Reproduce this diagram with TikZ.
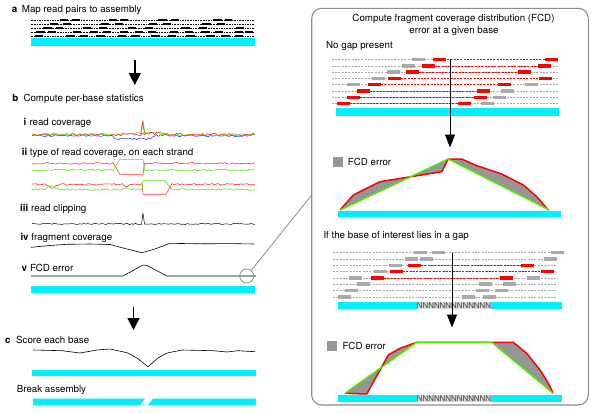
\documentclass[tikz,border=0pt]{standalone}
\usepackage{fontspec}
\setmainfont{TeX Gyre Heros}
\usetikzlibrary{arrows.meta}
\definecolor{cybar}{RGB}{0,240,255}
\definecolor{lred}{RGB}{255,50,50}
\definecolor{lgreen}{RGB}{90,225,20}
\definecolor{lblue}{RGB}{50,80,255}
\definecolor{rgray}{RGB}{170,170,170}
\definecolor{fillg}{RGB}{150,150,150}
\definecolor{boxg}{RGB}{140,140,140}
\definecolor{pgreen}{RGB}{80,235,0}
\newcommand\blkrow[2]{\foreach \a/\b in {#2} \fill[black] (\a,#1-1.1) rectangle (\b,#1+1.1);}
\newcommand\rrow[3]{\foreach \a in {#2} \fill[#3] (\a,#1-1.75) rectangle ++(13,3.5);}
\begin{document}
\begin{tikzpicture}[x=1pt,y=-1pt,
  txt/.style={anchor=base west, inner sep=0pt, font=\fontsize{9.75}{11}\selectfont},
  lbl/.style={anchor=base west, inner sep=0pt, font=\fontsize{9.75}{11}\selectfont\bfseries},
  bar/.style={fill=cybar, draw=none},
  bdash/.style={black, line width=0.45pt, dash pattern=on 1.6pt off 1pt},
  gdash/.style={rgray, line width=0.5pt, dash pattern=on 2pt off 1.3pt},
  rdash/.style={red, line width=0.6pt, dash pattern=on 2pt off 1.3pt},
  bigarrow/.style={line width=1.4pt, -{Triangle[width=12pt,length=12pt]}},
  thinarrow/.style={line width=0.9pt, -{Triangle[width=10pt,length=13pt]}},
  noisy/.style={line width=0.6pt, line join=round},
  plotline/.style={line width=1.5pt, line join=round}
]
\useasboundingbox (0,0) rectangle (600,413);

% ---------------- panel a ----------------
\node[lbl] (la) at (11.7,12.7) {a};
\node[txt] (ta) at (21.7,12.7) {Map read pairs to assembly};
\foreach \yy in {20,24,28,32,36} \draw[bdash] (31.3,\yy) -- (254.7,\yy);
\blkrow{20}{60/68,72/80,109/117,120/128,158/167,171/179,213/222,225/232}
\blkrow{24}{50/58,63/71,101/109,115/123,149/157,163/171,202/211,217/225}
\blkrow{28}{43/52,56/63,83/91,99/107,128/136,145/153,181/190,199/207,236/244}
\blkrow{32}{36/45,48/56,73/81,90/98,103/111,120/128,135/143,148/156,170/178,185/193,201/210,215/223,235/243,245/253}
\blkrow{36}{35/43,66/75,80/88,96/105,118/126,131/140,151/160,168/176,186/195,206/215,221/230,235/243}
\fill[bar] (31.3,38.3) rectangle (254.7,45.7);
\coordinate (a1s) at (134.8,60);
\coordinate (a1e) at (134.8,85);
\draw[bigarrow] (a1s) -- (a1e);

% ---------------- panel b ----------------
\node[lbl] (lb) at (12.3,101.7) {b};
\node[txt] (tb) at (23.3,101.7) {Compute per-base statistics};
\node[lbl] (li) at (23.5,125) {i};
\node[txt] (ti) at (29.3,125) {read coverage};
% read coverage
\pgfmathsetseed{11}
\draw[lblue,noisy] plot[domain=32:255,samples=112] (\x,{135.6+1.1*rand+3.5*min(1,max(0,(22-abs(\x-133))/6))});
\pgfmathsetseed{23}
\draw[lgreen,noisy] plot[domain=32:255,samples=112] (\x,{134.6+1.3*rand-1.4*min(1,max(0,(24-abs(\x-142))/6))});
\pgfmathsetseed{37}
\draw[lred,noisy] plot[domain=32:255,samples=112] (\x,{134.6+1.3*rand-1.2*min(1,max(0,(12-abs(\x-155))/4))});
\draw[lgreen,noisy] (141,135) -- (143,120) -- (145,134);
\draw[lred,noisy] (140.5,134) -- (142.6,122) -- (144,131) -- (146,134);

\node[lbl] (lii) at (21.7,155.7) {ii};
\node[txt] (tii) at (29.6,155.7) {type of read coverage, on each strand};
% strand pair 1
\pgfmathsetseed{41}
\draw[lred,noisy] plot[domain=32:113,samples=41] (\x,{163.3+0.8*rand}) -- (120,174.3) -- (143,174.3) -- (144.5,163.3)
  -- plot[domain=146:255,samples=55] (\x,{163.3+0.8*rand});
\pgfmathsetseed{43}
\draw[lgreen,noisy] plot[domain=32:113,samples=41] (\x,{170+0.8*rand}) -- (120,159.3) -- (143,159.3) -- (144.5,170)
  -- plot[domain=146:255,samples=55] (\x,{170+0.8*rand});
% strand pair 2
\pgfmathsetseed{47}
\draw[lred,noisy] plot[domain=32:142,samples=56] (\x,{184.3+0.8*rand+3.5*max(0,1-abs(\x-52)/8)+2.5*max(0,1-abs(\x-126)/4)}) -- (143,194.3) -- (166,194.3) -- (171.3,185)
  -- plot[domain=172:255,samples=42] (\x,{184.3+0.8*rand});
\pgfmathsetseed{53}
\draw[lgreen,noisy] plot[domain=32:142,samples=56] (\x,{189.5+0.8*rand-3.5*max(0,1-abs(\x-52)/8)-2.5*max(0,1-abs(\x-126)/4)}) -- (143,180.7) -- (164.7,180.7) -- (171.3,188.8)
  -- plot[domain=172:255,samples=42] (\x,{189.5+0.8*rand});

\node[lbl] (liii) at (20,211) {iii};
\node[txt] (tiii) at (31,211) {read clipping};
\pgfmathsetseed{59}
\draw[black,noisy,line width=0.5pt] plot[domain=32:141.5,samples=56] (\x,{224+0.6*rand}) -- (143,213) -- (144.5,224)
  -- plot[domain=145.5:255,samples=56] (\x,{224+0.6*rand});

\node[lbl] (liv) at (20.3,240.7) {iv};
\node[txt] (tiv) at (31.2,240.7) {fragment coverage};
\draw[black,noisy] (31,247.3) -- (50,245.5) -- (67,244.3) -- (90,244) -- (110,244.5) -- (125,248.5) -- (142,252.7)
  -- (155,249) -- (170,243.3) -- (200,243.8) -- (230,243.6) -- (254,244);

\node[lbl] (lv) at (21.5,271.3) {v};
\node[txt] (tv) at (29.8,271.3) {FCD error};
\draw[black,noisy] (31,276) -- (123,276) -- (143,265) -- (147,265.5) -- (167,276) -- (256,276);
\node[draw=boxg, circle, line width=0.8pt, minimum size=14pt, inner sep=0pt] (circ) at (246.7,276) {};
\fill[bar] (30.7,286) rectangle (255,293.3);

\coordinate (a2s) at (133.5,307);
\coordinate (a2e) at (133.5,330);
\draw[bigarrow] (a2s) -- (a2e);

% ---------------- panel c ----------------
\node[lbl] (lc) at (5,343.3) {c};
\node[txt] (tc) at (16,343.3) {Score each base};
\draw[black,noisy] (33,350) -- (62,350.7) -- (80,353) -- (97,350) -- (110,349) -- (127,352.7) -- (137,358) -- (148,366.7)
  -- (158,358) -- (167,353) -- (182,350) -- (213,350.7) -- (227,352) -- (238,350.7) -- (255,351.7);
\fill[bar] (32.3,370) rectangle (256,376);
\node[txt] (tbreak) at (16.7,392.3) {Break assembly};
\fill[bar] (33,398.7) -- (145,398.7) -- (140,405.3) -- (33,405.3) -- cycle;
\fill[bar] (153,398.7) -- (256,398.7) -- (256,405.3) -- (147.7,405.3) -- cycle;

% ---------------- right panel ----------------
\node[draw=boxg, line width=1.1pt, rounded corners=10pt, minimum width=276.6pt, minimum height=396.7pt, inner sep=0pt] (panel) at (450,206.65) {};
\coordinate (boxpt) at (311.7,195);
\draw[boxg, line width=0.8pt] (circ) -- (boxpt);

\node[txt, anchor=base] (t1) at (453.5,21.7) {Compute fragment coverage distribution (FCD)};
\node[txt, anchor=base] (t2) at (454,33.6) {error at a given base};
\node[txt] (tnogap) at (326,48.3) {No gap present};

% no-gap reads
\foreach \yy in {59.5,65.8,72.1,78.4,84.7,91,97.3,103.6} \draw[gdash] (331.7,\yy) -- (558.3,\yy);
\draw[rdash] (447,59.5) -- (545,59.5);
\draw[rdash] (435,65.8) -- (538,65.8);
\draw[rdash] (419,72.1) -- (518,72.1);
\draw[rdash] (401,78.4) -- (539,78.4);
\draw[rdash] (381,84.7) -- (498,84.7);
\draw[rdash] (370,91) -- (477,91);
\draw[rdash] (360,97.3) -- (474,97.3);
\draw[rdash] (350,103.6) -- (458,103.6);
\rrow{59.5}{412}{rgray}   \rrow{59.5}{433,545}{red}
\rrow{65.8}{402}{rgray}   \rrow{65.8}{422,538}{red}
\rrow{72.1}{387}{rgray}   \rrow{72.1}{406,518}{red}
\rrow{78.4}{372}{rgray}   \rrow{78.4}{388,539}{red}
\rrow{84.7}{347,525}{rgray} \rrow{84.7}{368,498}{red}
\rrow{91}{501}{rgray}     \rrow{91}{357,477}{red}
\rrow{97.3}{493}{rgray}   \rrow{97.3}{347,474}{red}
\rrow{103.6}{481}{rgray}  \rrow{103.6}{337,458}{red}
\fill[bar] (336,108.3) rectangle (559,115.7);
\coordinate (r1s) at (450,59);
\coordinate (r1e) at (450,147.5);
\draw[thinarrow] (r1s) -- (r1e);

% FCD plot 1
\fill[bar] (338.3,210.7) rectangle (560.7,217.3);
\fill[fillg, even odd rule] (340,210) -- (353.3,195) -- (380,181.7) -- (441.7,171.7) -- (448.3,159) -- (461.7,159) -- (475,165)
  -- (501.7,174) -- (523.3,185) -- (536.7,196.7) -- (548.3,210) -- cycle
  (340,210) -- (448.3,159) -- (549.3,210) -- cycle;
\draw[red,plotline] (340,210) -- (353.3,195) -- (380,181.7) -- (441.7,171.7) -- (448.3,159) -- (461.7,159) -- (475,165)
  -- (501.7,174) -- (523.3,185) -- (536.7,196.7) -- (548.3,210);
\draw[pgreen,plotline] (340,210) -- (448.3,159) -- (549.3,210);
\fill[fillg] (332.7,156.7) rectangle (343.3,166.7);
\node[txt] (tleg1) at (347.7,165.3) {FCD error};

% gap reads
\node[txt] (tgap) at (323.3,238.3) {If the base of interest lies in a gap};
\foreach \yy in {252.7,259,265.3,271.6,277.9,284.2,290.5,296.8} \draw[gdash] (333,\yy) -- (556.7,\yy);
\draw[rdash] (421,265.3) -- (521,265.3);
\draw[rdash] (403,271.6) -- (541,271.6);
\draw[rdash] (384,277.9) -- (500,277.9);
\rrow{252.7}{414,432,551}{rgray}
\rrow{259}{405,420,544}{rgray}
\rrow{265.3}{389}{rgray}   \rrow{265.3}{408,521}{red}
\rrow{271.6}{374}{rgray}   \rrow{271.6}{390,541}{red}
\rrow{277.9}{349,527}{rgray} \rrow{277.9}{371,500}{red}
\rrow{284.2}{357,479,503}{rgray}
\rrow{290.5}{345,476,495}{rgray}
\rrow{296.8}{338,462,483}{rgray}
\fill[bar] (337.7,301.7) rectangle (562.3,309);
\node[font=\fontsize{7.9}{8}\selectfont, text=black!75, fill=gray!30, inner sep=0pt, minimum width=73.4pt, minimum height=7.3pt] (n1) at (454,305.35) {NNNNNNNNNNNNN};
\coordinate (r2s) at (452,252.7);
\coordinate (r2e) at (452,327.5);
\draw[thinarrow] (r2s) -- (r2e);

% FCD plot 2
\fill[bar] (338.3,395) rectangle (562.3,401.7);
\node[font=\fontsize{7.9}{8}\selectfont, text=black!75, fill=gray!30, inner sep=0pt, minimum width=73.4pt, minimum height=6.7pt] (n2) at (454,398.35) {NNNNNNNNNNNNN};
\fill[fillg, even odd rule] (345,393.3) -- (366.7,394) -- (380,370) -- (388.3,355) -- (400,348.3) -- (416.7,342.3)
  -- (513.3,342.3) -- (526.7,353.3) -- (540,370) -- (548.3,383.3) -- (553.3,393.3) -- cycle
  (345,393.3) -- (416.7,342.3) -- (491.7,342.3) -- (553.3,393.3) -- cycle;
\draw[red,plotline] (345,393.3) -- (366.7,394) -- (380,370) -- (388.3,355) -- (400,348.3) -- (416.7,342.3)
  -- (513.3,342.3) -- (526.7,353.3) -- (540,370) -- (548.3,383.3) -- (553.3,393.3);
\draw[pgreen,plotline] (345,393.3) -- (416.7,342.3) -- (491.7,342.3) -- (553.3,393.3);
\fill[fillg] (326.7,340.7) rectangle (336.7,350.7);
\node[txt] (tleg2) at (342.3,349.3) {FCD error};
\end{tikzpicture}
\end{document}
